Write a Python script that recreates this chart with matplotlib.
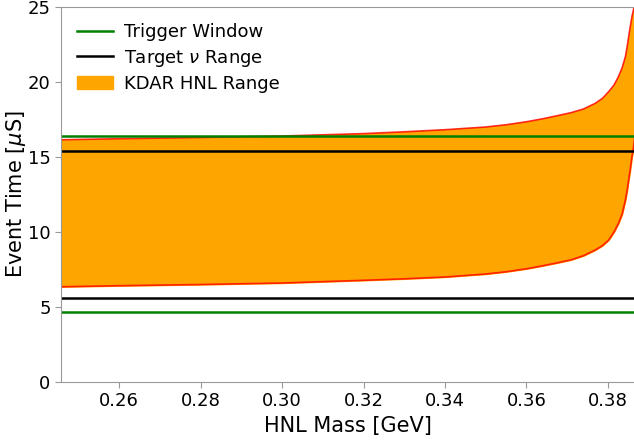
import matplotlib
matplotlib.use("Agg")
import matplotlib.pyplot as plt

# HNL mass [GeV] and event time band edges [us]
mass = [0.2457, 0.26, 0.28, 0.30, 0.32, 0.33, 0.34, 0.35, 0.355, 0.36,
        0.364, 0.368, 0.371, 0.374, 0.3769, 0.3787, 0.3802, 0.3815, 0.3826,
        0.3835, 0.3843, 0.3847, 0.3851, 0.3855, 0.3859, 0.3862, 0.3864, 0.3868]
t_low = [6.35, 6.42, 6.5, 6.6, 6.78, 6.88, 7.0, 7.2, 7.35, 7.55,
         7.75, 7.97, 8.15, 8.42, 8.8, 9.1, 9.47, 10.0, 10.58,
         11.2, 12.13, 12.75, 13.47, 14.2, 15.02, 15.45, 15.9, 16.8]
t_high = [16.15, 16.22, 16.3, 16.4, 16.56, 16.68, 16.82, 17.0, 17.15, 17.35,
          17.55, 17.78, 17.96, 18.2, 18.58, 18.92, 19.36, 19.8, 20.36,
          20.95, 21.69, 22.3, 23.02, 23.7, 24.35, 24.7, 25.0, 26.0]

trigger_window = [4.65, 16.4]
target_nu = [5.62, 15.42]

fig = plt.figure(figsize=(6.34, 4.47), dpi=100)
ax = fig.add_axes([0.0962, 0.1454, 0.905, 0.8389])

ax.fill_between(mass, t_low, t_high, color='orange', label='KDAR HNL Range')
ax.plot(mass, t_low, color='red', lw=1.2, alpha=0.8)
ax.plot(mass, t_high, color='red', lw=1.2, alpha=0.8)

for i, t in enumerate(trigger_window):
    ax.axhline(t, color='green', lw=1.8, label='Trigger Window' if i == 0 else None)
for i, t in enumerate(target_nu):
    ax.axhline(t, color='black', lw=1.8, label=r'Target $\nu$ Range' if i == 0 else None)

ax.set_xlim(mass[0], 0.3866)
ax.set_ylim(0, 25)
ax.set_xticks([0.26, 0.28, 0.30, 0.32, 0.34, 0.36, 0.38])
ax.set_xticklabels(['0.26', '0.28', '0.30', '0.32', '0.34', '0.36', '0.38'])
ax.set_yticks([0, 5, 10, 15, 20, 25])
ax.tick_params(labelsize=13, color='0.6', length=4)
for s in ax.spines.values():
    s.set_color('0.6')

ax.set_xlabel('HNL Mass [GeV]', fontsize=15)
ax.set_ylabel(r'Event Time [$\mu$S]', fontsize=15)
ax.yaxis.set_label_coords(-0.058, 0.5)

h, l = ax.get_legend_handles_labels()
order = [l.index('Trigger Window'), l.index(r'Target $\nu$ Range'), l.index('KDAR HNL Range')]
ax.legend([h[i] for i in order], [l[i] for i in order], loc='upper left',
          frameon=False, fontsize=13, labelspacing=0.35, handletextpad=0.6)

fig.savefig('out.png', dpi=100)
